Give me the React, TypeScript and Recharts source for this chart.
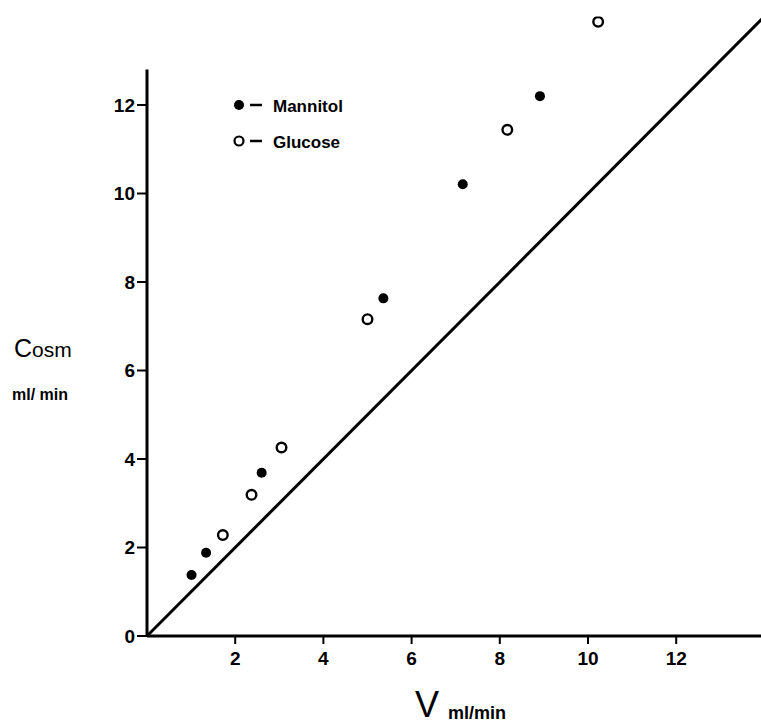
import React from 'react';
import {
  ScatterChart,
  Scatter,
  XAxis,
  YAxis,
  ReferenceLine,
  Customized,
} from 'recharts';

// values (V vs Cosm, ml/min)
const mannitolV = [1.01, 1.34, 2.6, 5.36, 7.16, 8.91];
const mannitolCosm = [1.38, 1.88, 3.69, 7.63, 10.21, 12.2];
const glucoseV = [1.72, 2.37, 3.05, 5.0, 8.17, 10.23];
const glucoseCosm = [2.28, 3.19, 4.26, 7.16, 11.44, 13.88];

const xTicks = [2, 4, 6, 8, 10, 12];
const yTicks = [0, 2, 4, 6, 8, 10, 12];
const yAxisTop = 12.8;
const identityEnd = 14;

const mannitol = mannitolV.map((v, i) => ({ x: v, y: mannitolCosm[i] }));
const glucose = glucoseV.map((v, i) => ({ x: v, y: glucoseCosm[i] }));

const FONT = '"Liberation Sans", Arial, sans-serif';
const tickStyle = { fontSize: 19, fontWeight: 'bold', fill: '#000', fontFamily: FONT };

const FilledDot = (props: any) => <circle cx={props.cx} cy={props.cy} r={5} fill="#000" />;
const OpenDot = (props: any) => (
  <circle cx={props.cx} cy={props.cy} r={4.8} fill="#fff" stroke="#000" strokeWidth={2.4} />
);

const Labels = () => (
  <g fontFamily={FONT} fill="#000">
    {/* legend */}
    <circle cx={239} cy={105} r={5} fill="#000" />
    <line x1={250} y1={105} x2={262} y2={105} stroke="#000" strokeWidth={2.5} />
    <text x={273} y={112} fontSize={17} fontWeight="bold">Mannitol</text>
    <circle cx={239} cy={141} r={4.5} fill="#fff" stroke="#000" strokeWidth={2.2} />
    <line x1={250} y1={141} x2={262} y2={141} stroke="#000" strokeWidth={2.5} />
    <text x={273} y={148} fontSize={17} fontWeight="bold">Glucose</text>
    {/* y label */}
    <text x={14} y={357} fontSize={24}>
      <tspan fontSize={25}>C</tspan>
      <tspan fontSize={21}>osm</tspan>
    </text>
    <text x={12} y={400} fontSize={16} fontWeight="bold">ml/ min</text>
    {/* x label */}
    <text x={415} y={717} fontSize={36}>V</text>
    <text x={448} y={719} fontSize={18} fontWeight="bold">ml/min</text>
  </g>
);

export default function App() {
  return (
    <div style={{ position: 'absolute', left: 0, top: 0, width: 761, height: 725, overflow: 'hidden', background: '#fff' }}>
      <ScatterChart
        width={770}
        height={725}
        margin={{ top: 16.5, right: 5.6, bottom: 59, left: 107 }}
      >
        <XAxis
          type="number"
          dataKey="x"
          domain={[0, 14]}
          ticks={xTicks}
          height={30}
          axisLine={{ stroke: '#000', strokeWidth: 3 }}
          tickLine={{ stroke: '#000', strokeWidth: 2 }}
          tickSize={8}
          tickMargin={8}
          tick={tickStyle}
          allowDataOverflow
        />
        <YAxis
          type="number"
          dataKey="y"
          domain={[0, 14]}
          ticks={yTicks}
          width={40}
          axisLine={false}
          tickLine={{ stroke: '#000', strokeWidth: 2 }}
          tickSize={10}
          tickMargin={2}
          tick={tickStyle}
          allowDataOverflow
        />
        <ReferenceLine
          segment={[{ x: 0, y: 0 }, { x: 0, y: yAxisTop }]}
          stroke="#000"
          strokeWidth={3}
          ifOverflow="visible"
        />
        <ReferenceLine
          segment={[{ x: 0, y: 0 }, { x: identityEnd, y: identityEnd }]}
          stroke="#000"
          strokeWidth={3}
          ifOverflow="visible"
        />
        <Scatter data={mannitol} shape={FilledDot} isAnimationActive={false} />
        <Scatter data={glucose} shape={OpenDot} isAnimationActive={false} />
        <Customized component={Labels} />
      </ScatterChart>
    </div>
  );
}
